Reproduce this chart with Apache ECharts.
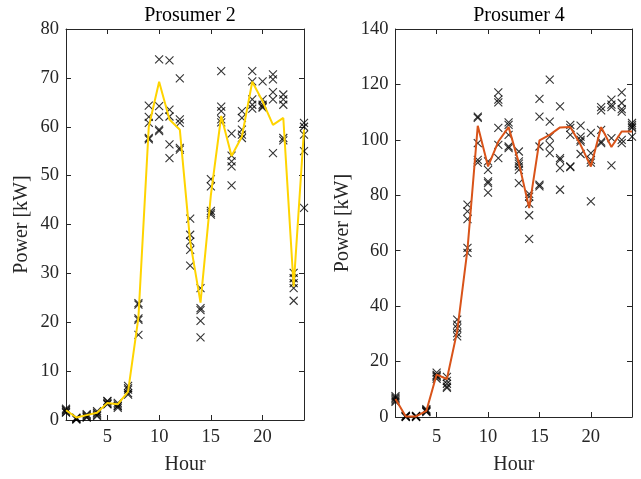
<!DOCTYPE html>
<html>
<head>
<meta charset="utf-8">
<script src="https://cdn.jsdelivr.net/npm/echarts@6/dist/echarts.min.js"></script>
<style>html,body{margin:0;padding:0;background:#fff}#c{width:641px;height:479px}</style>
</head>
<body>
<div id="c"></div>
<script>
const hours = [1,2,3,4,5,6,7,8,9,10,11,12,13,14,15,16,17,18,19,20,21,22,23,24];
const xTicks = [5,10,15,20];

const p2Line = [2.0,0.5,1.0,1.5,3.5,3.2,5.8,21,60,69.2,61.5,59.4,36.5,24,46,62.2,54,58,69.2,65.2,60.4,61.8,27.3,59.4];
const p2Samples = [
  [2.3,1.9,1.6,1.5,2.0],
  [0.3,0.1,0.5,0.2,0.4],
  [0.8,1.2,0.5,1.0,0.6],
  [1.5,1.0,0.8,1.3,1.8],
  [3.9,3.5,3.2,3.8,3.3],
  [3.2,2.8,2.5,3.5,2.9],
  [7.0,6.2,5.5,5.2,6.5],
  [23.9,23.6,20.8,20.5,17.4],
  [64.3,62.0,60.8,57.7,57.4],
  [73.8,64.2,62.0,59.4,59.1],
  [73.6,63.5,62.1,56.4,53.6],
  [69.9,61.5,60.8,55.7,55.3],
  [41.2,37.9,36.5,34.8,31.6],
  [27.0,22.9,22.5,20.3,16.9],
  [49.3,47.8,42.8,42.4,42.0],
  [71.4,64.1,63.2,61.5,60.9],
  [58.6,54.1,52.9,51.9,48.0],
  [63.2,61.8,59.4,58.4,57.7],
  [71.4,69.3,65.6,64.5,63.7],
  [69.3,65.6,64.5,64.1,63.9],
  [70.7,69.7,67.1,65.6,54.6],
  [66.6,65.6,64.5,57.7,57.2],
  [30.1,29.0,28.0,27.0,24.4],
  [60.8,60.0,58.4,55.0,43.4]
];

const p4Line = [6.5,0.2,0.2,2.2,15.3,13.7,31,60.5,105.1,90.4,99.4,104.6,91.6,75.4,99.8,101.8,104.5,104.6,98.2,90.4,104.6,97.4,103.0,103.0];
const p4Samples = [
  [7.0,6.5,6.0,5.5,7.5],
  [0.3,0.0,0.5,0.2,0.1],
  [0.2,0.0,0.4,0.1,0.3],
  [2.5,2.0,1.8,2.8,2.2],
  [16.0,15.2,14.5,13.8,14.8],
  [14.5,13.0,12.0,11.0,10.5],
  [35.1,33.3,32.1,30.3,29.1],
  [76.6,74.2,71.4,61.0,59.2],
  [108.4,107.9,98.8,92.8,91.8],
  [92.2,89.2,85.0,84.4,81.0],
  [117.1,114.5,113.5,104.3,98.2,93.4],
  [106.3,105.4,101.8,97.6,97.0],
  [95.8,92.2,91.4,90.4,89.2,84.4],
  [80.5,79.5,77.0,72.8,64.3],
  [114.8,108.4,97.6,83.8,83.2],
  [121.7,106.6,101.2,98.2,95.2],
  [112.1,93.4,92.8,89.8,82.0],
  [105.4,104.3,101.8,90.4,90.2],
  [105.1,101.2,100.0,99.4,94.9],
  [102.5,95.2,92.8,91.8,77.8],
  [111.8,110.6,103.6,99.4,98.8],
  [114.5,112.7,111.8,100.6,90.8],
  [117.1,113.3,111.1,110.2,100.0,98.8],
  [106.1,105.4,104.8,104.3,101.2]
];

const titles = ['Prosumer 2','Prosumer 4'];
const xName = 'Hour';
const yName = 'Power [kW]';

const FONT = 'Liberation Serif';
const TXT = '#262626';
const AX = '#262626';

function pts(samples){
  const out = [];
  samples.forEach((arr,i)=>arr.forEach(v=>out.push([hours[i],v])));
  return out;
}
const xMark = 'path://M0,0L10,10M10,0L0,10';

const grids = [
  {left:66, right:337, top:29, bottom:59, containLabel:false, outerBoundsMode:'none'},
  {left:395.5, right:9, top:29, bottom:62, containLabel:false, outerBoundsMode:'none'}
];
const yMax = [80,140], yInt = [10,20];

const xAxis = [], yAxis = [], series = [];
grids.forEach((g,i)=>{
  const base = {type:'value', min:1, max:24, gridIndex:i,
    axisLine:{show:true,onZero:false,lineStyle:{color:AX,width:1}},
    splitLine:{show:false}};
  xAxis.push(Object.assign({}, base, {position:'bottom',
    name:xName, nameLocation:'middle', nameGap:(i===0?35:38),
    nameTextStyle:{fontFamily:FONT,fontSize:20,color:TXT},
    axisTick:{show:true,inside:true,length:5,customValues:xTicks,lineStyle:{color:AX}},
    axisLabel:{show:true,customValues:xTicks,fontFamily:FONT,fontSize:18.5,color:TXT,margin:(i===0?8:11)}}));
  xAxis.push(Object.assign({}, base, {position:'top',
    axisTick:{show:true,inside:true,length:5,customValues:xTicks,lineStyle:{color:AX}},
    axisLabel:{show:false}}));
  const ybase = {type:'value', min:0, max:yMax[i], interval:yInt[i], gridIndex:i,
    axisLine:{show:true,onZero:false,lineStyle:{color:AX,width:1}},
    splitLine:{show:false},
    axisTick:{show:true,inside:true,length:5,lineStyle:{color:AX}}};
  yAxis.push(Object.assign({}, ybase, {position:'left',
    name:yName, nameLocation:'middle', nameGap:(i===0?34:43), nameRotate:90,
    nameTextStyle:{fontFamily:FONT,fontSize:20,color:TXT},
    axisLabel:{show:true,fontFamily:FONT,fontSize:18.5,color:TXT,margin:7}}));
  yAxis.push(Object.assign({}, ybase, {position:'right', axisLabel:{show:false}}));
});

[[p2Samples,p2Line,'#FFD400'],[p4Samples,p4Line,'#D95319']].forEach((d,i)=>{
  series.push({type:'scatter', xAxisIndex:2*i, yAxisIndex:2*i, data:pts(d[0]),
    symbol:xMark, symbolSize:8, z:2,
    itemStyle:{color:'rgba(0,0,0,0)', borderColor:'#000', borderWidth:1.1}});
  series.push({type:'line', xAxisIndex:2*i, yAxisIndex:2*i,
    data:hours.map((h,k)=>[h,d[1][k]]), showSymbol:false, symbol:'none', z:3,
    lineStyle:{color:d[2], width:2}});
});

const chart = echarts.init(document.getElementById('c'), null, {renderer:'canvas'});
chart.setOption({
  animation:false,
  backgroundColor:'#fff',
  title: titles.map((t,i)=>({text:t, left:(i===0?185:514), top:1, textAlign:'center',
    textStyle:{fontFamily:FONT,fontSize:20,fontWeight:'normal',color:'#000'}})),
  grid: grids,
  xAxis, yAxis, series
});
</script>
</body>
</html>
